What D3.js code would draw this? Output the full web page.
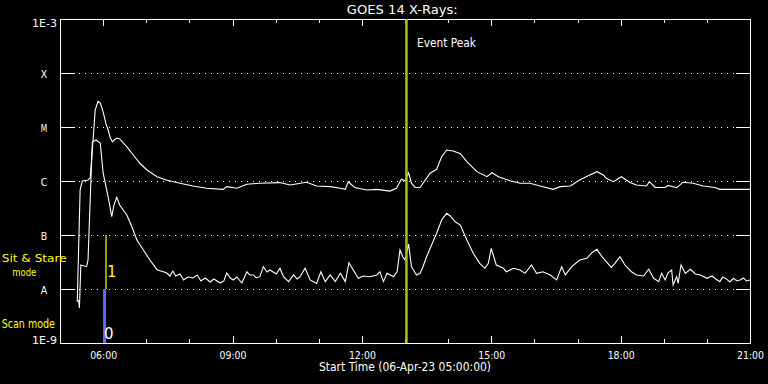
<!DOCTYPE html>
<html><head><meta charset="utf-8">
<script src="https://cdn.jsdelivr.net/npm/d3@7"></script>
<style>html,body{margin:0;padding:0;background:#000;overflow:hidden}</style>
</head><body><svg id="c" width="768" height="384"></svg>
<script>
const DAY = "2023-04-06";
const chartTitle = "GOES 14 X-Rays:";
const xAxisTitle = "Start Time (06-Apr-23 05:00:00)";
const xDomain = ["05:00", "21:00"];
const xTickLabels = ["06:00", "09:00", "12:00", "15:00", "18:00", "21:00"];
const xMinorTicks = ["06:00","07:00","08:00","09:00","10:00","11:00","12:00","13:00","14:00","15:00","16:00","17:00","18:00","19:00","20:00","21:00"];
const yTickValues = [1e-9, 1e-8, 1e-7, 1e-6, 1e-5, 1e-4, 1e-3];
const yTickLabels = ["1E-9", "A", "B", "C", "M", "X", "1E-3"];
const eventPeakTime = "13:02";
const eventPeakLabel = "Event Peak";
const modeTimes = ["06:02", "06:04"];
const modeValues = [0, 1];
const modeNames = [["Scan mode"], ["Sit & Stare", "mode"]];

// 1-8 A channel (upper curve)
const longTimes = ["05:24","05:28","05:31","05:39","05:42","05:46","05:49","05:53","05:56","06:00","06:04","06:07","06:10","06:13","06:17","06:19","06:23","06:33","06:42","06:51","07:01","07:15","07:28","07:47","08:05","08:24","08:47","08:52","09:06","09:20","09:38","10:06","10:20","10:43","10:57","11:16","11:30","11:37","11:41","11:50","12:07","12:21","12:39","12:48","12:55","13:00","13:05","13:09","13:14","13:21","13:28","13:35","13:44","13:51","13:58","14:07","14:17","14:26","14:40","14:54","15:01","15:10","15:26","15:40","15:54","16:08","16:26","16:36","16:50","17:03","17:17","17:27","17:36","17:40","17:50","18:01","18:13","18:22","18:36","18:40","18:48","19:02","19:06","19:18","19:27","19:41","19:55","20:11","20:18","21:00"];
const longFlux = [5.75e-9,6.8e-7,1.0e-6,1.04e-6,1.14e-6,5.75e-6,2.07e-5,3.0e-5,2.78e-5,1.9e-5,1.14e-5,8.8e-6,6.25e-6,5.34e-6,6.0e-6,6.25e-6,6.0e-6,4.3e-6,3.03e-6,2.13e-6,1.6e-6,1.2e-6,1.04e-6,9.1e-7,8.1e-7,7.33e-7,7.0e-7,7.86e-7,7.33e-7,8.7e-7,9.1e-7,9.35e-7,8.43e-7,9.5e-7,8.1e-7,7.86e-7,7.33e-7,7.0e-7,9.7e-7,7.6e-7,6.8e-7,7.0e-7,6.5e-7,7.33e-7,1.075e-6,1.01e-6,1.42e-6,9.1e-7,7.6e-7,7.6e-7,1.04e-6,1.39e-6,1.65e-6,2.82e-6,3.75e-6,3.6e-6,3.2e-6,2.28e-6,1.49e-6,1.2e-6,1.42e-6,1.2e-6,1.01e-6,9.1e-7,9.1e-7,8.1e-7,7.0e-7,7.86e-7,8.1e-7,1.04e-6,1.29e-6,1.49e-6,1.29e-6,1.12e-6,9.7e-7,1.2e-6,9.35e-7,8.43e-7,8.1e-7,9.7e-7,7.6e-7,7.6e-7,8.3e-7,7.5e-7,9.5e-7,9.1e-7,8.1e-7,7.6e-7,7.0e-7,7.0e-7];

// 0.5-4 A channel (lower curve)
const shortTimes = ["05:26","05:27","05:29","05:37","05:39","05:42","05:45","05:50","05:56","06:00","06:07","06:12","06:15","06:19","06:23","06:33","06:40","06:47","06:56","07:05","07:15","07:28","07:33","07:37","07:41","07:47","07:52","07:58","08:05","08:11","08:16","08:22","08:29","08:34","08:43","08:48","08:52","08:57","09:01","09:06","09:13","09:20","09:24","09:29","09:33","09:38","09:43","09:48","09:52","10:01","10:06","10:11","10:18","10:25","10:30","10:34","10:41","10:48","10:57","11:03","11:09","11:16","11:23","11:30","11:37","11:42","11:48","11:55","12:02","12:11","12:21","12:25","12:30","12:35","12:44","12:49","12:53","12:57","13:00","13:05","13:09","13:16","13:21","13:25","13:30","13:37","13:44","13:51","13:58","14:03","14:10","14:17","14:26","14:35","14:44","14:51","14:56","15:00","15:07","15:17","15:21","15:31","15:40","15:47","15:56","16:03","16:12","16:22","16:31","16:38","16:43","16:52","17:03","17:13","17:20","17:27","17:34","17:40","17:47","17:52","17:59","18:06","18:15","18:22","18:32","18:39","18:46","18:53","18:57","19:02","19:06","19:11","19:13","19:18","19:20","19:24","19:30","19:37","19:44","19:51","20:00","20:07","20:11","20:18","20:22","20:28","20:32","20:37","20:42","20:46","20:51","20:55","21:00"];
const shortFlux = [6.25e-9,4.45e-9,2.78e-8,2.59e-8,3.45e-8,4.45e-7,5.28e-6,5.75e-6,5.05e-6,1.41e-6,5.05e-7,2.18e-7,3.59e-7,4.98e-7,3.59e-7,2.35e-7,1.42e-7,8.1e-8,5.28e-8,3.45e-8,2.28e-8,2.0e-8,1.74e-8,2.15e-8,1.74e-8,1.9e-8,1.47e-8,1.67e-8,1.6e-8,1.82e-8,1.41e-8,1.6e-8,1.35e-8,1.53e-8,1.29e-8,1.41e-8,1.98e-8,1.6e-8,1.47e-8,1.67e-8,1.29e-8,2.09e-8,1.82e-8,1.82e-8,1.6e-8,1.69e-8,2.59e-8,2.06e-8,2.25e-8,1.9e-8,2.42e-8,1.69e-8,1.37e-8,1.82e-8,1.53e-8,1.69e-8,2.42e-8,1.47e-8,1.27e-8,2.09e-8,1.37e-8,1.82e-8,1.37e-8,1.95e-8,1.37e-8,3.07e-8,2.25e-8,1.58e-8,1.74e-8,1.69e-8,1.82e-8,2.09e-8,1.37e-8,1.95e-8,1.69e-8,2.09e-8,5.28e-8,3.91e-8,3.45e-8,6.81e-8,2.59e-8,1.82e-8,1.95e-8,2.59e-8,3.96e-8,6.52e-8,1.075e-7,1.9e-7,2.52e-7,2.25e-7,1.76e-7,1.53e-7,8.1e-8,4.58e-8,2.99e-8,2.42e-8,2.99e-8,5.66e-8,2.78e-8,2.42e-8,2.09e-8,2.42e-8,2.25e-8,1.95e-8,2.78e-8,1.95e-8,2.09e-8,1.82e-8,1.47e-8,2.59e-8,1.82e-8,2.59e-8,3.45e-8,3.7e-8,4.7e-8,5.43e-8,3.96e-8,3.2e-8,2.52e-8,2.99e-8,3.96e-8,2.78e-8,2.09e-8,1.82e-8,1.74e-8,2.32e-8,1.58e-8,1.37e-8,1.95e-8,1.47e-8,2.0e-8,2.25e-8,1.19e-8,1.69e-8,1.27e-8,2.78e-8,1.95e-8,2.32e-8,1.9e-8,1.82e-8,1.58e-8,1.74e-8,1.58e-8,1.37e-8,1.67e-8,1.51e-8,1.35e-8,1.58e-8,1.41e-8,1.47e-8,1.6e-8,1.41e-8,1.47e-8];

const parse = s => d3.utcParse("%Y-%m-%d %H:%M")(DAY + " " + s);
const FONT = "DejaVu Sans";
const svg = d3.select("#c");
svg.append("rect").attr("width", 768).attr("height", 384).attr("fill", "#000");

const x = d3.scaleUtc().domain(xDomain.map(parse)).range([60, 750]);
const y = d3.scaleLog().domain([1e-9, 1e-3]).range([343, 19]);

// grid dotted lines
const inner = yTickValues.slice(1, -1);
svg.append("g").selectAll("line").data(inner).join("line")
  .attr("x1", 79).attr("x2", 736)
  .attr("y1", d => Math.round(y(d)) + 0.5).attr("y2", d => Math.round(y(d)) + 0.5)
  .attr("stroke", "#fff").attr("stroke-width", 1).attr("stroke-dasharray", "1,5");

function styleAxis(g) {
  g.attr("font-family", FONT).attr("shape-rendering", "crispEdges");
  g.selectAll("path,line").attr("stroke", "#fff");
  g.selectAll("text").attr("fill", "#fff");
}

// bottom axis
const gB = svg.append("g").attr("transform", "translate(0,343)")
  .call(d3.axisBottom(x).tickValues(xTickLabels.map(parse)).tickFormat((d, i) => xTickLabels[i])
    .tickSize(-7).tickSizeOuter(0).tickPadding(9));
gB.call(styleAxis);
gB.selectAll("text").attr("font-size", 10).attr("textLength", 27).attr("lengthAdjust", "spacingAndGlyphs");
svg.append("g").attr("transform", "translate(0,343)")
  .call(d3.axisBottom(x).tickValues(xMinorTicks.map(parse)).tickFormat("").tickSize(-4).tickSizeOuter(0))
  .call(styleAxis);
// top axis
svg.append("g").attr("transform", "translate(0,19)")
  .call(d3.axisTop(x).tickValues(xTickLabels.map(parse)).tickFormat("").tickSize(-7).tickSizeOuter(0))
  .call(styleAxis);
svg.append("g").attr("transform", "translate(0,19)")
  .call(d3.axisTop(x).tickValues(xMinorTicks.map(parse)).tickFormat("").tickSize(-4).tickSizeOuter(0))
  .call(styleAxis);
// left axis
const gL = svg.append("g").attr("transform", "translate(60,0)")
  .call(d3.axisLeft(y).tickValues(yTickValues).tickFormat((d, i) => yTickLabels[i])
    .tickSize(-15).tickSizeOuter(0).tickPadding(3));
gL.call(styleAxis);
gL.selectAll(".tick text").each(function(d, i) {
  const t = d3.select(this).attr("font-size", 10).attr("dy", null);
  const lab = yTickLabels[i];
  if (lab.length === 1) {
    t.attr("text-anchor", "middle").attr("x", -16).attr("y", 4)
     .attr("textLength", 6.5).attr("lengthAdjust", "spacingAndGlyphs");
  } else {
    t.attr("text-anchor", "end").attr("x", -3)
     .attr("y", i === 0 ? 0 : 7.7)
     .attr("textLength", 25).attr("lengthAdjust", "spacingAndGlyphs");
  }
});
// right axis
svg.append("g").attr("transform", "translate(750,0)")
  .call(d3.axisRight(y).tickValues(yTickValues).tickFormat("").tickSize(-14).tickSizeOuter(0))
  .call(styleAxis);

// curves
const line = d3.line().x(d => x(d[0])).y(d => y(d[1]));
const longData = longTimes.map((t, i) => [parse(t), longFlux[i]]);
const shortData = shortTimes.map((t, i) => [parse(t), shortFlux[i]]);
[longData, shortData].forEach(dat => {
  svg.append("path").datum(dat).attr("d", line)
    .attr("fill", "none").attr("stroke", "#fff").attr("stroke-width", 1.1)
    .attr("stroke-linejoin", "miter");
});

// event peak line
const xp = x(parse(eventPeakTime));
svg.append("line").attr("x1", xp).attr("x2", xp).attr("y1", 19).attr("y2", 343)
  .attr("stroke", "#99cc00").attr("stroke-width", 2.5);
svg.append("text").attr("x", xp + 10.6).attr("y", 47).text(eventPeakLabel)
  .attr("fill", "#fff").attr("font-family", FONT).attr("font-size", 11.5)
  .attr("textLength", 59).attr("lengthAdjust", "spacingAndGlyphs");

// mode markers
modeTimes.forEach((t, i) => {
  const xm = x(parse(t));
  const m = modeValues[i];
  const lo = yTickValues[m], hi = yTickValues[m + 1];
  if (m === 0) {
    svg.append("rect").attr("x", xm - 1.5).attr("width", 3)
      .attr("y", y(hi)).attr("height", y(lo) - y(hi)).attr("fill", "#6464ff");
    svg.append("text").attr("x", xm - 0.5).attr("y", y(lo) - 4).text(String(m))
      .attr("fill", "#fff").attr("font-family", FONT).attr("font-size", 15);
  } else {
    svg.append("line").attr("x1", xm).attr("x2", xm).attr("y1", y(hi)).attr("y2", y(lo))
      .attr("stroke", "#ffff00").attr("stroke-width", 1.2);
    svg.append("text").attr("x", xm + 1).attr("y", y(lo) - 12).text(String(m))
      .attr("fill", "#ffff00").attr("font-family", FONT).attr("font-size", 15);
  }
});

// mode names on the left
const yellow = "#ffff00";
svg.append("text").attr("x", 1.7).attr("y", y(1e-8) - 27).text(modeNames[1][0])
  .attr("fill", yellow).attr("font-family", FONT).attr("font-size", 11)
  .attr("textLength", 65).attr("lengthAdjust", "spacingAndGlyphs");
svg.append("text").attr("x", 24.3).attr("y", y(1e-8) - 13.5).text(modeNames[1][1])
  .attr("text-anchor", "middle")
  .attr("fill", yellow).attr("font-family", FONT).attr("font-size", 11)
  .attr("textLength", 24).attr("lengthAdjust", "spacingAndGlyphs");
svg.append("text").attr("x", 1.7).attr("y", y(1e-9) - 15).text(modeNames[0][0])
  .attr("fill", yellow).attr("font-family", FONT).attr("font-size", 12)
  .attr("textLength", 53.3).attr("lengthAdjust", "spacingAndGlyphs");

// titles
svg.append("text").attr("x", 402.3).attr("y", 14).attr("text-anchor", "middle").text(chartTitle)
  .attr("fill", "#fff").attr("font-family", FONT).attr("font-size", 12.5)
  .attr("textLength", 111).attr("lengthAdjust", "spacingAndGlyphs");
svg.append("text").attr("x", 405).attr("y", 371).attr("text-anchor", "middle").text(xAxisTitle)
  .attr("fill", "#fff").attr("font-family", FONT).attr("font-size", 11.5)
  .attr("textLength", 172).attr("lengthAdjust", "spacingAndGlyphs");
</script></body></html>
